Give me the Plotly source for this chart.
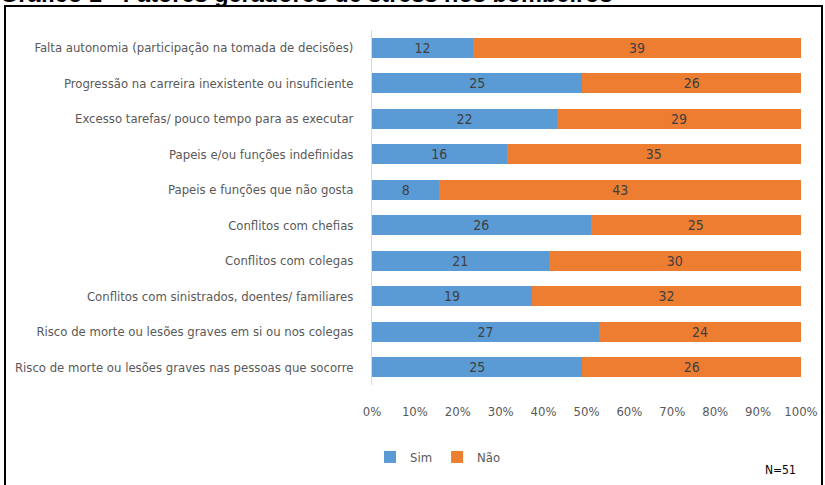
import plotly.graph_objects as go

categories = [
    "Falta autonomia (participação na tomada de decisões)",
    "Progressão na carreira inexistente ou insuficiente",
    "Excesso tarefas/ pouco tempo para as executar",
    "Papeis e/ou funções indefinidas",
    "Papeis e funções que não gosta",
    "Conflitos com chefias",
    "Conflitos com colegas",
    "Conflitos com sinistrados, doentes/ familiares",
    "Risco de morte ou lesões graves em si ou nos colegas",
    "Risco de morte ou lesões graves nas pessoas que socorre",
]
sim = [12, 25, 22, 16, 8, 26, 21, 19, 27, 25]
nao = [39, 26, 29, 35, 43, 25, 30, 32, 24, 26]
tick_vals = [0, 0.1, 0.2, 0.3, 0.4, 0.5, 0.6, 0.7, 0.8, 0.9, 1.0]
tick_text = ["0%", "10%", "20%", "30%", "40%", "50%", "60%", "70%", "80%", "90%", "100%"]
title_text = "Gráfico 1 - Fatores geradores de stress nos bombeiros"
note_text = "N=51"

totals = [s + n for s, n in zip(sim, nao)]
sim_share = [s / t for s, t in zip(sim, totals)]
nao_share = [n / t for n, t in zip(nao, totals)]

FONT = "DejaVu Sans Condensed, Liberation Sans Narrow, Liberation Sans, sans-serif"
W, H = 825, 485
L, R, T, B = 372, 24, 30, 100
pw, ph = W - L - R, H - T - B

def px_x(x):
    return (x - L) / pw

def px_y(y):
    return (H - B - y) / ph

fig = go.Figure()
for name, share, vals, color in [("Sim", sim_share, sim, "#5B9BD5"), ("Não", nao_share, nao, "#ED7D31")]:
    fig.add_trace(go.Bar(
        y=categories, x=share, name=name, orientation="h",
        marker=dict(color=color, line=dict(width=0)),
        text=vals, texttemplate="%{text}", textposition="inside",
        insidetextanchor="middle", textangle=0,
        textfont=dict(family=FONT, size=14, color="#404040"),
        hoverinfo="skip",
    ))

fig.update_layout(
    width=W, height=H,
    margin=dict(l=L, r=R, t=T, b=B, autoexpand=False),
    barmode="stack", bargap=0.44,
    plot_bgcolor="white", paper_bgcolor="white",
    font=dict(family=FONT, size=13, color="#595959"),
    uniformtext=dict(mode="show", minsize=14),
    legend=dict(
        orientation="h", x=px_x(370), y=px_y(457), yanchor="middle", xanchor="left",
        font=dict(family=FONT, size=13, color="#595959"),
        itemwidth=30, traceorder="normal",
        bgcolor="rgba(0,0,0,0)",
    ),
    xaxis=dict(
        range=[0, 1], tickvals=tick_vals, ticktext=tick_text,
        showgrid=False, zeroline=False, showline=False,
        ticks="", ticklabelstandoff=17,
        tickfont=dict(family=FONT, size=13, color="#595959"),
        fixedrange=True,
    ),
    yaxis=dict(
        autorange="reversed", showgrid=False, zeroline=False,
        showline=True, linecolor="#D9D9D9", linewidth=1,
        ticks="", ticklabelstandoff=15,
        tickfont=dict(family=FONT, size=13, color="#595959"),
        fixedrange=True,
    ),
    shapes=[
        dict(type="rect", xref="paper", yref="paper",
             x0=px_x(5), x1=px_x(822), y0=px_y(490), y1=px_y(6),
             line=dict(color="black", width=2), fillcolor="rgba(0,0,0,0)", layer="below"),
    ],
    annotations=[
        dict(text=title_text, xref="paper", yref="paper",
             x=px_x(-2), y=px_y(9), xanchor="left", yanchor="bottom",
             showarrow=False,
             font=dict(family="Liberation Sans, Arial, sans-serif", size=23.5, color="black", weight="bold")),
        dict(text=note_text, xref="paper", yref="paper",
             x=px_x(780), y=px_y(470), xanchor="center", yanchor="middle",
             showarrow=False,
             font=dict(family=FONT, size=12, color="black")),
    ],
)

fig.write_html("out.html", config={"displayModeBar": False},
               post_script="document.body.style.margin='0';document.body.style.overflow='hidden';")
